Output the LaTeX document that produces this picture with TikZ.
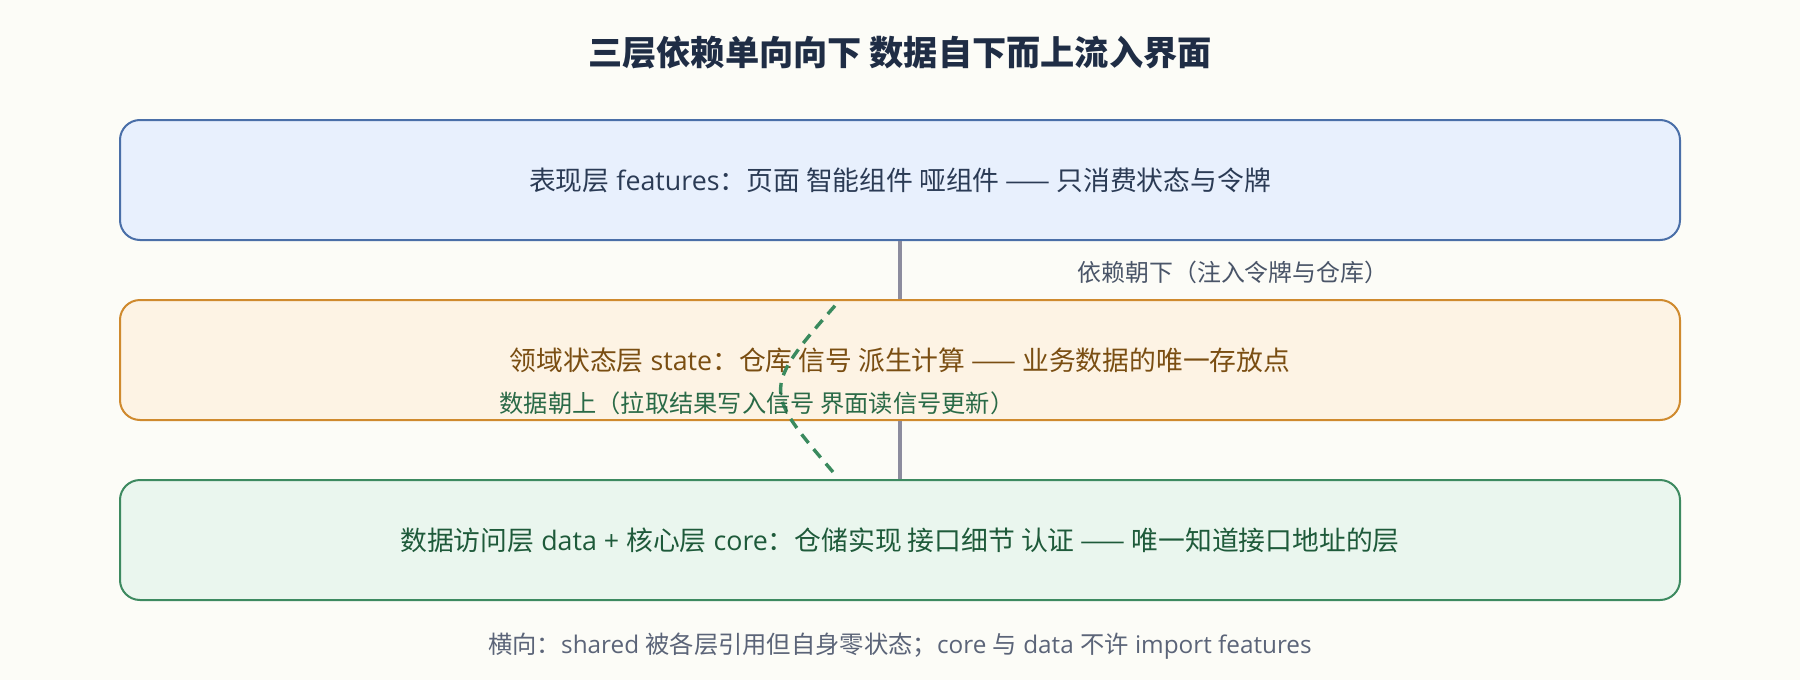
\documentclass[tikz,border=0pt]{standalone}
\usepackage{fontspec}
\setmainfont{Noto Sans CJK SC}
\newfontfamily\latin{Open Sans}
\newcommand{\lt}[1]{{\latin #1}}
\definecolor{bgc}{HTML}{FCFCF7}
\definecolor{fillA}{HTML}{E8F0FD}
\definecolor{drawA}{HTML}{4A6FA8}
\definecolor{fillB}{HTML}{FDF3E4}
\definecolor{drawB}{HTML}{CF8A2E}
\definecolor{fillC}{HTML}{EAF6EE}
\definecolor{drawC}{HTML}{3D8A60}
\definecolor{txtA}{HTML}{2B3B55}
\definecolor{txtB}{HTML}{7A4E12}
\definecolor{txtC}{HTML}{1E5A3A}
\definecolor{lineG}{HTML}{8C8C9E}
\definecolor{dashG}{HTML}{3A8A5E}
\definecolor{lblA}{HTML}{4A5568}
\definecolor{lblB}{HTML}{2A6A47}
\definecolor{noteC}{HTML}{5B6478}
\definecolor{titleC}{HTML}{1F2D45}
\begin{document}
\begin{tikzpicture}[x=1pt,y=-1pt,
  layer/.style={rounded corners=20pt,line width=2pt,minimum width=1560pt,minimum height=120pt,inner sep=0pt,font=\fontsize{26.8}{32}\selectfont},
  deplink/.style={line width=4pt,draw=lineG},
  flowlink/.style={line width=3.4pt,draw=dashG,dash pattern=on 11pt off 8pt},
  lbl/.style={inner sep=0pt}]
\fill[bgc] (0,0) rectangle (1800,680);
\useasboundingbox (0,0) rectangle (1800,680);
\node[font=\fontsize{34.2}{40}\selectfont\bfseries,text=titleC] (title) at (900,53) {三层依赖单向向下 数据自下而上流入界面};
\node[layer,fill=fillA,draw=drawA,text=txtA] (features) at (900,180) {表现层\lt{ features}：页面 智能组件 哑组件 —— 只消费状态与令牌};
\node[layer,fill=fillB,draw=drawB,text=txtB] (state) at (900,360) {领域状态层\lt{ state}：仓库 信号 派生计算 —— 业务数据的唯一存放点};
\node[layer,fill=fillC,draw=drawC,text=txtC] (data) at (900,540) {数据访问层\lt{ data + }核心层\lt{ core}：仓储实现 接口细节 认证 —— 唯一知道接口地址的层};
\draw[deplink] (features.south) -- (state.north);
\draw[deplink] (state.south) -- (data.north);
\coordinate (flowstart) at (833,472);
\coordinate (flowend) at (840,300);
\draw[flowlink] (flowstart) .. controls (762,389) .. (flowend);
\node[lbl,font=\fontsize{23.9}{28}\selectfont,text=lblA] (deplabel) at (1233,272) {依赖朝下（注入令牌与仓库）};
\node[lbl,font=\fontsize{24.25}{29}\selectfont,text=lblB] (flowlabel) at (757,403) {数据朝上（拉取结果写入信号 界面读信号更新）};
\node[font=\fontsize{24.3}{29}\selectfont,text=noteC] (note) at (900,646.5) {横向：\lt{shared }被各层引用但自身零状态；\lt{core }与\lt{ data }不许\lt{ import features}};
\end{tikzpicture}
\end{document}
